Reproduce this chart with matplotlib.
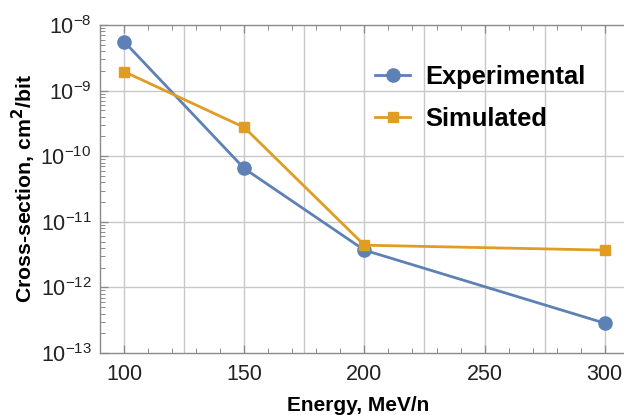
import matplotlib
matplotlib.use("Agg")
import matplotlib.pyplot as plt
from matplotlib.ticker import LogLocator, MultipleLocator, FixedLocator, NullFormatter

plt.rcParams['font.family'] = ['Liberation Sans', 'DejaVu Sans']

energy = [100, 150, 200, 300]
experimental = [5.6e-9, 6.5e-11, 3.7e-12, 2.85e-13]
simulated = [1.95e-9, 2.75e-10, 4.4e-12, 3.7e-12]
x_tick_labels = ["100", "150", "200", "250", "300"]

blue = "#5E81B5"
orange = "#E19C24"

fig = plt.figure(figsize=(6.24, 4.15), dpi=100)
ax = fig.add_axes([100/624, 62/415, 524/624, 328/415])

ax.plot(energy, experimental, color=blue, lw=2.0, marker="o", ms=9.5,
        label="Experimental", zorder=3)
ax.plot(energy, simulated, color=orange, lw=2.0, marker="s", ms=7,
        label="Simulated", zorder=3)

ax.set_yscale("log")
ax.set_xlim(90, 308)
ax.set_ylim(1e-13, 1e-8)

ax.xaxis.set_major_locator(FixedLocator([100, 150, 200, 250, 300]))
ax.set_xticklabels(x_tick_labels)
ax.xaxis.set_minor_locator(MultipleLocator(10))
ax.yaxis.set_major_locator(LogLocator(base=10, numticks=10))
ax.yaxis.set_minor_locator(LogLocator(base=10, subs=range(2, 10), numticks=20))
ax.yaxis.set_minor_formatter(NullFormatter())

# grid lines every 25 in x and every decade in y
for gx in range(100, 301, 25):
    ax.axvline(gx, color="#c8c8c8", lw=1.0, zorder=1)
for e in range(-12, -8):
    ax.axhline(10.0**e, color="#c8c8c8", lw=1.0, zorder=1)

spine_col = "#8a8a8a"
for s in ax.spines.values():
    s.set_color(spine_col)
    s.set_linewidth(1.0)
ax.spines["right"].set_visible(False)

ax.tick_params(which="both", direction="in", colors=spine_col, top=True,
               right=False, labelcolor="#222222", labelsize=15.5)
ax.tick_params(which="major", length=6, width=0.9)
ax.tick_params(which="minor", length=3.5, width=0.7)
ax.tick_params(axis="x", pad=8)
ax.tick_params(axis="y", pad=6)
ax.xaxis.label.set_visible(False)
ax.yaxis.label.set_visible(False)

fig.text(358/624, 1 - 405/415, "Energy, MeV/n", fontsize=15,
         fontweight="bold", ha="center", va="center")
fig.text(24/624, 1 - 189/415, "Cross-section, cm$^\\mathbf{2}$/bit",
         fontsize=15.3, fontweight="bold", ha="center", va="center",
         rotation=90)

leg = ax.legend(loc="upper left", bbox_to_anchor=(0.525, 0.878), frameon=False,
                borderpad=0, borderaxespad=0,
                prop={"size": 18.4, "weight": "bold"}, handlelength=1.37,
                labelspacing=0.72, handletextpad=0.6)

fig.savefig("out.png", dpi=100)
